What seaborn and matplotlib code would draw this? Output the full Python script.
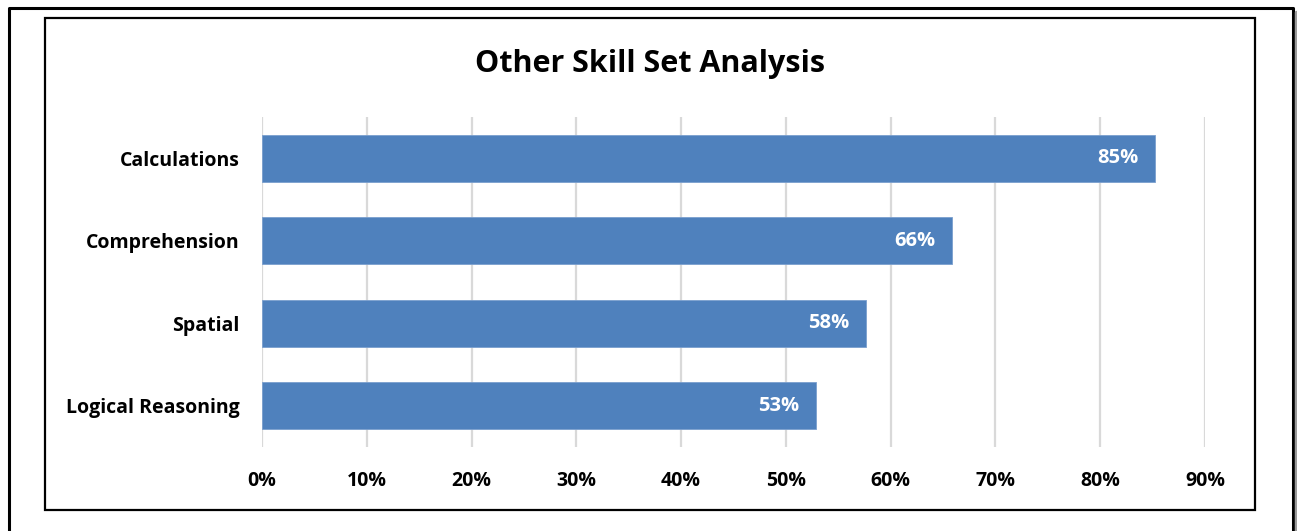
import pandas as pd
import numpy as np
import matplotlib.pyplot as plt
import seaborn as sns
from matplotlib.patches import Rectangle
from matplotlib.lines import Line2D
from matplotlib.ticker import PercentFormatter

skills = ['Calculations', 'Comprehension', 'Spatial', 'Logical Reasoning']
scores = [0.852, 0.659, 0.576, 0.529]
ticks = [0.0, 0.1, 0.2, 0.3, 0.4, 0.5, 0.6, 0.7, 0.8, 0.9]

df = pd.DataFrame({'skill': skills, 'score': scores})

sns.set_style('white')
plt.rcParams['font.family'] = ['Open Sans', 'DejaVu Sans']
plt.rcParams['text.color'] = 'black'

fig = plt.figure(figsize=(12.97, 5.31), dpi=100)
W, H = 1297, 531
ax = fig.add_axes([262 / W, (H - 447) / H, 943 / W, 330 / H])

sns.barplot(data=df, x='score', y='skill', orient='h', color='#4F81BD',
            saturation=1, width=0.57, edgecolor='#7a9fce', linewidth=0.6, ax=ax, zorder=3)

ax.set_xlim(0, 0.9)
ax.set_ylim(3.5, -0.5)
ax.set_xticks(ticks)
ax.xaxis.set_major_formatter(PercentFormatter(1.0, decimals=0))
ax.grid(axis='x', color='#D9D9D9', linewidth=1.6, zorder=0)
ax.grid(axis='y', visible=False)
for s in ax.spines.values():
    s.set_visible(False)
ax.set_xlabel('')
ax.set_ylabel('')
ax.tick_params(axis='both', length=0, labelsize=14, pad=16)
ax.tick_params(axis='x', pad=17.5)
for lab in ax.get_xticklabels() + ax.get_yticklabels():
    lab.set_fontweight('bold')
    lab.set_color('black')

for i, v in enumerate(scores):
    ax.annotate(f'{v:.0%}', xy=(v, i), xytext=(-12, 0), textcoords='offset points',
                ha='right', va='center', color='white', fontsize=14.5, fontweight='bold')

fig.text(650 / W, 1 - 64 / H, 'Other Skill Set Analysis', ha='center', va='center',
         fontsize=22, fontweight='bold', color='black')

# chart frame
fig.patches.append(Rectangle((45 / W, (H - 510) / H), 1210 / W, 492 / H,
                             transform=fig.transFigure, fill=False,
                             edgecolor='black', linewidth=1.6))
# page frame
fig.lines.append(Line2D([9 / W, 9 / W, 1293 / W, 1293 / W], [0, 1 - 8 / H, 1 - 8 / H, 0],
                        transform=fig.transFigure, color='black', linewidth=2.2))
fig.lines.append(Line2D([1296 / W, 1296 / W], [0, 1 - 12 / H],
                        transform=fig.transFigure, color='#9a9a9a', linewidth=2.5))

fig.savefig('out.png', dpi=100)
